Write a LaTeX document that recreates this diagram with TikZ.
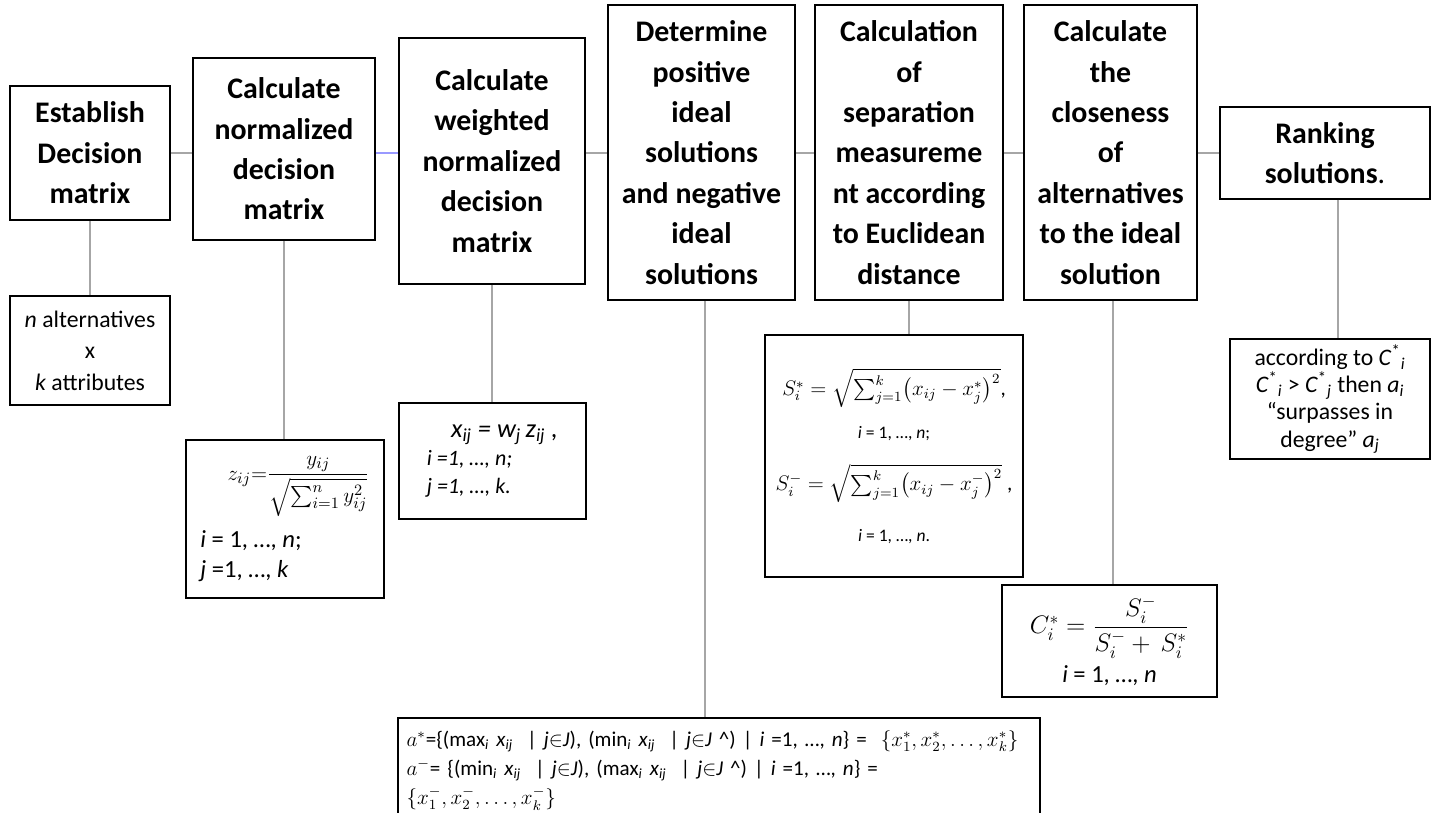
\documentclass[tikz,border=0pt]{standalone}
\usepackage{fontspec}
\setmainfont{Carlito}
\usepackage{amsmath}
\usetikzlibrary{positioning, calc}

\newcommand{\isub}[2]{\textit{#1}\textsubscript{\textit{#2}}}

\begin{document}
\begin{tikzpicture}[x=0.02cm, y=-0.02cm,
  stepbox/.style={rectangle, draw=black, line width=1.1pt, align=center, inner sep=2pt,
    font=\bfseries\fontsize{17}{23}\selectfont},
  formbox/.style={rectangle, draw=black, line width=0.9pt, align=center, inner sep=3pt,
    font=\fontsize{13.5}{18}\selectfont},
  link/.style={draw=gray!70, line width=0.7pt}]

\useasboundingbox (0,0) rectangle (1441,812);
\coordinate (row) at (0,153);

% steps along the top
\node[stepbox, minimum width=3.2cm, minimum height=2.68cm] (establish) at (90,153) {Establish\\Decision\\matrix};
\node[stepbox, minimum width=3.64cm, minimum height=3.64cm] (normalize) at (284,149) {Calculate\\normalized\\decision\\matrix};
\node[stepbox, minimum width=3.72cm, minimum height=4.92cm] (weight) at (492,161) {Calculate\\weighted\\normalized\\decision\\matrix};
\node[stepbox, minimum width=3.74cm, minimum height=5.9cm] (ideal) at (701.5,152.5) {Determine\\positive\\ideal\\solutions\\and negative\\ideal\\solutions};
\node[stepbox, minimum width=3.76cm, minimum height=5.9cm] (separate) at (909,152.5) {Calculation\\of\\separation\\measureme\\nt according\\to Euclidean\\distance};
\node[stepbox, minimum width=3.46cm, minimum height=5.9cm] (closeness) at (1110.5,152.5) {Calculate\\the\\closeness\\of\\alternatives\\to the ideal\\solution};
\node[stepbox, minimum width=4.2cm, minimum height=1.84cm] (ranking) at (1325,153) {Ranking\\solutions{\mdseries.}};

% formulas below
\node[formbox, minimum width=3.2cm, minimum height=2.18cm] (matrix) at (90,350.5) {\textit{n} alternatives\\x\\\textit{k} attributes};
\node[formbox, minimum width=3.96cm, minimum height=3.16cm, align=left, font=\fontsize{14}{17}\selectfont] (normf) at (285,519)
  {\hspace*{1.1em}{\fontsize{12.5}{14}\selectfont$z_{ij}{=}\dfrac{y_{ij}}{\sqrt{\sum_{i=1}^{n} y_{ij}^{2}}}$}\\[7pt]
   \textit{i} = 1, …, \textit{n};\\ \textit{j} =1, …, \textit{k}};
\node[formbox, minimum width=3.74cm, minimum height=2.32cm, align=left,
  font=\itshape\fontsize{12.5}{16}\selectfont] (weightf) at (492.5,461)
  {\hspace*{1.1em}{\fontsize{15}{16}\selectfont\isub{x}{ij} = \isub{w}{j}\,\isub{z}{ij} ,}\\
   i =1, …, n;\\ j =1, …, k.};
\node[formbox, minimum width=5.16cm, minimum height=4.84cm, font=\fontsize{10}{12}\selectfont] (separatef) at (894,456)
  {{\fontsize{12}{14}\selectfont$S_i^{*} = \sqrt{\sum_{j=1}^{k}\bigl(x_{ij}-x_j^{*}\bigr)^2}$,}\\[10pt]
   \textit{i} = 1, …, \textit{n};\\[12pt]
   {\fontsize{12}{14}\selectfont$S_i^{-} = \sqrt{\sum_{j=1}^{k}\bigl(x_{ij}-x_j^{-}\bigr)^2}$ ,}\\[14pt]
   \textit{i} = 1, …, \textit{n}.};
\node[formbox, minimum width=4.3cm, minimum height=2.24cm, font=\fontsize{14}{16}\selectfont] (closenessf) at (1109.5,641)
  {{\fontsize{14}{16}\selectfont$C_i^{*} = \dfrac{S_i^{-}}{S_i^{-}+\,S_i^{*}}$}\\[3pt] \textit{i} = 1, …, \textit{n}};
\node[formbox, minimum width=4.0cm, minimum height=2.24cm, font=\fontsize{13.5}{15.5}\selectfont] (rankingf) at (1330,399)
  {according to \textit{C}\textsuperscript{*}\textsubscript{\textit{i}}\\
   \textit{C}\textsuperscript{*}\textsubscript{\textit{i}} > \textit{C}\textsuperscript{*}\textsubscript{\textit{j}} then \isub{a}{i}\\
   “surpasses in\\ degree” \isub{a}{j}};
\node[formbox, text width=12.5cm, minimum height=2.1cm, align=left, anchor=north west, inner xsep=5pt,
  font=\fontsize{12}{16.5}\selectfont] (idealf) at (397,717)
  {$a^{*}$=\{(max\textsubscript{\textit{i}} \isub{x}{ij} \ | \textit{j}$\in$\textit{J}), (min\textsubscript{\textit{i}} \isub{x}{ij} \ | \textit{j}$\in$\textit{J} \textasciicircum) | \textit{i} =1, …, \textit{n}\} = \ $\{x_1^{*}, x_2^{*}, \dots, x_k^{*}\}$\\
   $a^{-}$= \{(min\textsubscript{\textit{i}} \isub{x}{ij} \ | \textit{j}$\in$\textit{J}), (max\textsubscript{\textit{i}} \isub{x}{ij} \ | \textit{j}$\in$\textit{J} \textasciicircum) | \textit{i} =1, …, \textit{n}\} =\\
   $\{x_1^{-}, x_2^{-}, \dots, x_k^{-}\}$};

% links between steps
\draw[link] (establish.east |- row) -- (normalize.west |- row);
\draw[link, draw=blue!40] (normalize.east |- row) -- (weight.west |- row);
\draw[link] (weight.east |- row) -- (ideal.west |- row);
\draw[link] (ideal.east |- row) -- (separate.west |- row);
\draw[link] (separate.east |- row) -- (closeness.west |- row);
\draw[link] (closeness.east |- row) -- (ranking.west |- row);

% links down to the formulas
\draw[link] (establish.south) -- (establish.south |- matrix.north);
\draw[link] (normalize.south) -- (normalize.south |- normf.north);
\draw[link] (weight.south) -- (weight.south |- weightf.north);
\draw[link] ([xshift=0.07cm]ideal.south) -- ([xshift=0.07cm]ideal.south |- idealf.north);
\draw[link] (separate.south) -- (separate.south |- separatef.north);
\draw[link] ([xshift=0.05cm]closeness.south) -- ([xshift=0.05cm]closeness.south |- closenessf.north);
\draw[link] ([xshift=0.26cm]ranking.south) -- ([xshift=0.26cm]ranking.south |- rankingf.north);

\end{tikzpicture}
\end{document}
